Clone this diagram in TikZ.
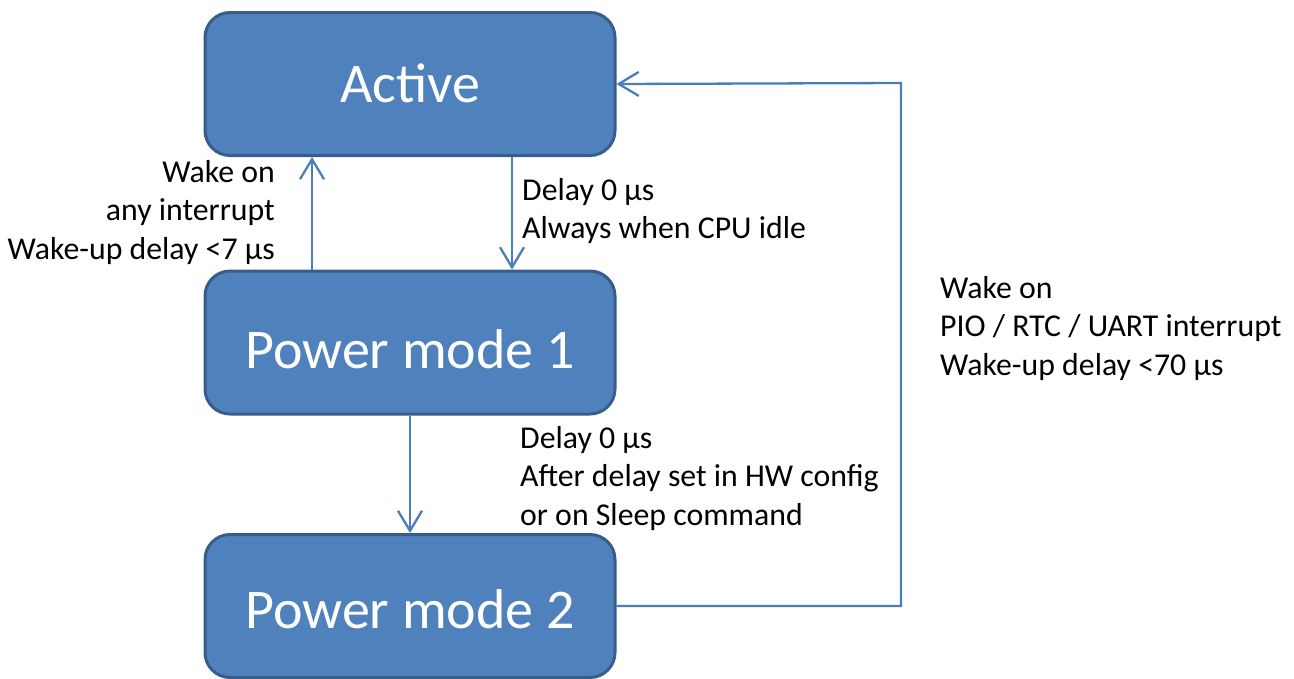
\documentclass[tikz,border=0pt]{standalone}
\usepackage{fontspec}
\setmainfont{Carlito}
\usetikzlibrary{arrows.meta}
\definecolor{boxfill}{HTML}{4F81BD}
\definecolor{boxline}{HTML}{385D8A}
\definecolor{arrowcol}{HTML}{4A7EBB}
\tikzset{
  statebox/.style={draw=boxline, fill=boxfill, line width=3pt, rounded corners=25pt,
    minimum width=410pt, minimum height=143pt, inner sep=0pt, text=white,
    font=\fontsize{56}{60}\selectfont, text depth=0pt},
  conn/.style={draw=arrowcol, line width=2.3pt,
    -{Straight Barb[length=20pt,width=24pt,line width=2.3pt]}},
  lbl/.style={inner sep=0pt, font=\fontsize{31.8}{38.5}\selectfont, text=black}
}
\begin{document}
\begin{tikzpicture}[x=1pt,y=-1pt]
\useasboundingbox (0,0) rectangle (1294,678);
\node[statebox, text height=36pt] (act) at (410,84) {Active};
\node[statebox, text height=51pt] (pm1) at (410,342.5) {Power mode 1};
\node[statebox, text height=44pt] (pm2) at (410,606) {Power mode 2};
\coordinate (lt) at (901,83);
\coordinate (lb) at (901,606);
\draw[conn] ([xshift=-98pt]pm1.north) -- ([xshift=-98pt]act.south);
\draw[conn] ([xshift=102pt]act.south) -- ([xshift=102pt]pm1.north);
\draw[conn] (pm1.south) -- (pm2.north);
\draw[conn] (pm2.east) -- (lb) -- (lt) -- (act.east);
\node[lbl, align=right, anchor=north east] (l1) at (275,160) {Wake on\\any interrupt\\Wake-up delay <7 µs};
\node[lbl, align=left, anchor=north west] (l2) at (522,178) {Delay 0 µs\\Always when CPU idle};
\node[lbl, align=left, anchor=north west] (l3) at (940,276) {Wake on\\PIO / RTC / UART interrupt\\Wake-up delay <70 µs};
\node[lbl, align=left, anchor=north west] (l4) at (520,426) {Delay 0 µs\\After delay set in HW config\\or on Sleep command};
\end{tikzpicture}
\end{document}
